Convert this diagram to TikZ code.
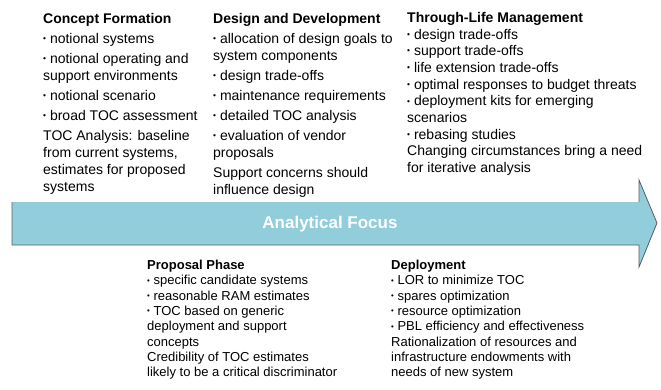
\documentclass[tikz,border=0pt]{standalone}
\usepackage{fontspec}
\setmainfont{Liberation Sans}
\definecolor{focusblue}{RGB}{146,205,220}
\definecolor{focusedge}{RGB}{85,95,100}
\newcommand{\dotmark}{\raisebox{0.13em}{\scalebox{0.6}{•}}}
\begin{document}
\begin{tikzpicture}[x=1pt, y=-1pt,
    phase/.style={anchor=north west, inner sep=0pt, align=left, font=\fontsize{14}{17}\selectfont},
    lowphase/.style={anchor=north west, inner sep=0pt, align=left, font=\fontsize{13}{15.3}\selectfont}]
    \useasboundingbox (0,0) rectangle (661,389);
    % the analytical focus arrow
    \fill[focusblue] (12,202) -- (639,202) -- (639,180) -- (657,223) -- (639,267) -- (639,245) -- (12,245) -- cycle;
    \draw[focusedge, line width=0.8pt] (12,202) -- (12,245) -- (639,245) -- (639,267) -- (657,223) -- (639,180) -- (639,202);
    \node[text=white, font=\fontsize{17}{20}\selectfont\bfseries] (focus) at (330,224) {Analytical Focus};
    % phases above the arrow
    \node[phase] (concept) at (43,13) {\textbf{Concept Formation}\\[3pt]
        \dotmark{} notional systems\\[3pt]
        \dotmark{} notional operating and\\
        support environments\\[3pt]
        \dotmark{} notional scenario\\[3pt]
        \dotmark{} broad TOC assessment\\[3pt]
        TOC Analysis: baseline\\
        from current systems,\\
        estimates for proposed\\
        systems};
    \node[phase] (design) at (213,13) {\textbf{Design and Development}\\[3pt]
        \dotmark{} allocation of design goals to\\
        system components\\[3pt]
        \dotmark{} design trade-offs\\[3pt]
        \dotmark{} maintenance requirements\\[3pt]
        \dotmark{} detailed TOC analysis\\[3pt]
        \dotmark{} evaluation of vendor\\
        proposals\\[3pt]
        Support concerns should\\
        influence design};
    \node[phase, font=\fontsize{14}{16.7}\selectfont] (through) at (407,12) {\textbf{Through-Life Management}\\
        \dotmark{} design trade-offs\\
        \dotmark{} support trade-offs\\
        \dotmark{} life extension trade-offs\\
        \dotmark{} optimal responses to budget threats\\
        \dotmark{} deployment kits for emerging\\
        scenarios\\
        \dotmark{} rebasing studies\\
        Changing circumstances bring a need\\
        for iterative analysis};
    % phases below the arrow
    \node[lowphase] (proposal) at (147,260) {\textbf{Proposal Phase}\\
        \dotmark{} specific candidate systems\\
        \dotmark{} reasonable RAM estimates\\
        \dotmark{} TOC based on generic\\
        deployment and support\\
        concepts\\
        Credibility of TOC estimates\\
        likely to be a critical discriminator};
    \node[lowphase] (deploy) at (391,260) {\textbf{Deployment}\\
        \dotmark{} LOR to minimize TOC\\
        \dotmark{} spares optimization\\
        \dotmark{} resource optimization\\
        \dotmark{} PBL efficiency and effectiveness\\
        Rationalization of resources and\\
        infrastructure endowments with\\
        needs of new system};
\end{tikzpicture}
\end{document}
